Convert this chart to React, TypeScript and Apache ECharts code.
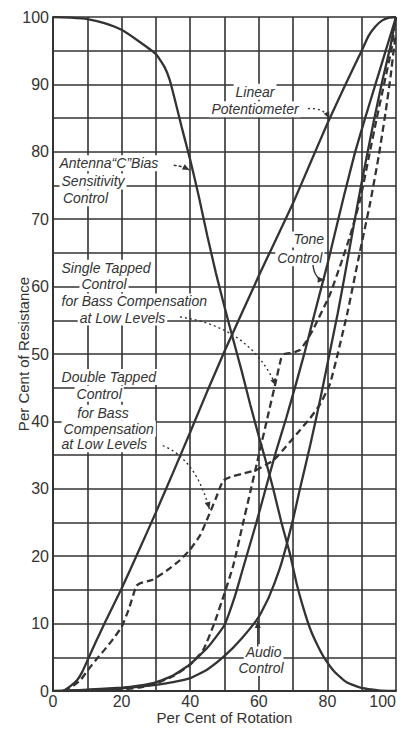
import React, { useEffect, useRef } from "react";
import * as echarts from "echarts";

// ---- Data (x = per cent of rotation, y = per cent of resistance) ----
const xTicks = [0, 20, 40, 60, 80, 100];
const yTicks = [0, 10, 20, 30, 40, 50, 60, 70, 80, 90, 100];

const linearPot: [number, number][] = [
  [3, 0], [5, 0.7], [7, 1.6], [8.5, 2.8], [10, 4.5], [12.5, 7.3], [15, 10], [20, 15.2],
  [25, 20.8], [30, 26.5], [35, 32.4], [40, 38.4], [45, 44.5], [50, 50.4], [55, 56],
  [60, 61.6], [65, 67], [70, 72.4], [75, 78.3], [80, 84.2], [85, 89.7], [90, 95],
  [92, 97.2], [94, 98.6], [96, 99.5], [98, 99.9], [100, 100],
];

const antennaBias: [number, number][] = [
  [0, 100], [5, 99.9], [10, 99.7], [15, 99.1], [20, 98.1], [25, 96.4], [30, 94.5],
  [32.5, 92.6], [34, 90.7], [35.5, 87.8], [37.5, 83.7], [40, 78.8], [42.5, 73.4],
  [45, 67.5], [47.5, 62], [50, 57], [52.5, 52.2], [55, 47.5], [57.5, 42.5], [60, 37.8],
  [62, 34.2], [64.2, 30], [66.6, 25], [69, 20.5], [71, 16], [73, 12.3], [75, 9.2],
  [77, 6.9], [79, 5], [82, 2.9], [85.6, 1.3], [90, 0.45], [95, 0.1], [100, 0],
];

const toneControl: [number, number][] = [
  [3, 0], [10, 0.2], [20, 0.5], [25, 0.8], [30, 1.3], [35, 2.3], [40, 4], [45, 6.4],
  [50, 9.8], [53, 14], [55, 17.5], [57, 21], [59.3, 25], [62.7, 31.3], [65, 35.5],
  [68, 40.5], [70.8, 45.5], [73.4, 50.3], [75, 53.5], [78.3, 60], [80, 63.3],
  [82.7, 69], [85, 73.8], [88, 79.8], [91, 85], [94, 90], [97, 95], [100, 100],
];

const audioControl: [number, number][] = [
  [0, 0], [10, 0.15], [20, 0.4], [30, 0.9], [35, 1.3], [40, 1.9], [45, 3.2], [50, 5.2],
  [55, 7.8], [60, 11], [63, 14], [66, 18], [68, 21.5], [70, 25.5], [72, 30], [75, 36.5],
  [78, 43.5], [80, 48.5], [83, 56], [85, 61.5], [88, 70], [90, 75.5], [93.5, 84.5],
  [96, 90.5], [98.3, 95.5], [100, 100],
];

const singleTapped: [number, number][] = [
  [15, 0], [20, 0.2], [25, 0.5], [30, 1.1], [35, 2.2], [40, 3.9], [43.8, 6.1], [47, 10],
  [50, 14.5], [52.5, 18.5], [55, 24], [57.5, 29.5], [60, 35], [62.5, 40.5], [65, 46],
  [66.5, 49.3], [67.5, 50], [70, 50.2], [72, 50.6], [74, 52], [76, 53.8], [80.7, 58.8],
  [84, 63.5], [86.6, 67.5], [89.5, 72.8], [92, 79], [94.4, 85], [96.5, 90], [98.6, 95],
  [100, 100],
];

const doubleTapped: [number, number][] = [
  [3, 0], [6, 0.8], [8, 1.6], [10, 3], [12.5, 4.6], [15, 6.1], [17.5, 7.7], [20, 9.5],
  [22, 12], [24.3, 15.6], [25.5, 16], [29, 16.5], [33, 17.8], [37, 19.4], [40, 21],
  [43, 23.2], [45.7, 26.4], [47.5, 28.6], [49.6, 31.2], [52, 31.8], [55, 32.2],
  [59.3, 32.8], [64.2, 34.2], [68, 36.3], [72, 38.7], [75, 40.5], [77.8, 42.5],
  [80.7, 45.5], [83, 50], [86, 56.5], [89, 64], [92.5, 72.5], [95, 79.5], [97, 86],
  [98.5, 91.5], [99.3, 95], [100, 97.5],
];

// annotation texts: [text, x, y, align] in data units
const labelLines: [string, number, number, string][] = [
  ["Linear", 58.9, 88.9, "center"],
  ["Potentiometer", 58.9, 86.3, "center"],
  ["Antenna\u201CC\u201DBias", 1.3, 78.3, "left"],
  ["Sensitivity", 1.9, 75.6, "left"],
  ["Control", 2.3, 73.1, "left"],
  ["Tone", 69.5, 67.0, "left"],
  ["Control", 64.8, 64.2, "left"],
  ["Single Tapped", 1.9, 62.8, "left"],
  ["Control", 7.7, 60.4, "left"],
  ["for Bass Compensation", 1.9, 57.8, "left"],
  ["at Low Levels", 7.2, 55.4, "left"],
  ["Double Tapped", 1.9, 46.6, "left"],
  ["Control", 6.3, 44.1, "left"],
  ["for Bass", 6.5, 41.3, "left"],
  ["Compensation", 2.5, 38.9, "left"],
  ["at Low Levels", 1.9, 36.6, "left"],
  ["Audio", 55.6, 5.8, "left"],
  ["Control", 53.5, 3.4, "left"],
];

// arrows: start, control, end (data units), dash style
const arrows: { s: [number, number]; c: [number, number]; e: [number, number]; dash: number[] }[] = [
  { s: [74.3, 86.4], c: [79, 86.6], e: [80.6, 84.9], dash: [2, 3] },
  { s: [35.2, 78.0], c: [37.5, 77.9], e: [39.8, 77.3], dash: [3, 2] },
  { s: [75.8, 63.2], c: [76.3, 61.0], e: [79.2, 61.0], dash: [] },
  { s: [37.0, 55.5], c: [57.5, 54.0], e: [65.0, 45.3], dash: [2, 3] },
  { s: [32.0, 36.4], c: [41.5, 34.5], e: [45.6, 27.0], dash: [2, 3] },
  { s: [59.7, 6.6], c: [59.7, 8.5], e: [59.7, 10.4], dash: [] },
];

const INK = "#333333";
const FONT = '"Liberation Sans", Arial, sans-serif';

export default function App() {
  const ref = useRef<HTMLDivElement>(null);

  useEffect(() => {
    document.body.style.margin = "0";
    if (!ref.current) return;
    const chart = echarts.init(ref.current, null, { renderer: "svg" });

    const mkSeries = (name: string, data: [number, number][], dashed: boolean) => ({
      name,
      type: "line",
      data,
      showSymbol: false,
      symbol: "none",
      smooth: 0.15,
      lineStyle: { color: INK, width: 2.3, type: dashed ? [7, 4] : "solid" },
      z: 3,
    });

    chart.setOption({
      animation: false,
      backgroundColor: "#ffffff",
      grid: { left: 53, right: 7, top: 17, bottom: 38, containLabel: false, outerBoundsMode: "none" },
      xAxis: {
        type: "value",
        min: 0,
        max: 100,
        interval: 10,
        name: "Per Cent of Rotation",
        nameLocation: "middle",
        nameGap: 19,
        nameMoveOverlap: false,
        nameTextStyle: { fontSize: 15, color: INK, fontFamily: FONT },
        axisLine: { show: true, lineStyle: { color: INK, width: 2 } },
        axisTick: { show: false },
        axisLabel: {
          fontSize: 16,
          color: INK,
          fontFamily: FONT,
          margin: 2,
          alignMaxLabel: "right",
          formatter: (v: number) => (xTicks.includes(v) ? String(v) : ""),
        },
        splitLine: { show: true, lineStyle: { color: INK, width: 1.6 } },
      },
      yAxis: {
        type: "value",
        min: 0,
        max: 100,
        interval: 5,
        name: "Per Cent of Resistance",
        nameLocation: "middle",
        nameGap: 22,
        nameMoveOverlap: false,
        nameTextStyle: { fontSize: 15, color: INK, fontFamily: FONT },
        axisLine: { show: true, lineStyle: { color: INK, width: 2 } },
        axisTick: { show: false },
        axisLabel: {
          fontSize: 16,
          color: INK,
          fontFamily: FONT,
          margin: 4,
          formatter: (v: number) => (yTicks.includes(v) ? String(v) : ""),
        },
        splitLine: { show: true, lineStyle: { color: INK, width: 1.6 } },
      },
      series: [
        mkSeries("Linear Potentiometer", linearPot, false),
        mkSeries("Antenna C Bias Sensitivity Control", antennaBias, false),
        mkSeries("Tone Control", toneControl, false),
        mkSeries("Audio Control", audioControl, false),
        mkSeries("Single Tapped Control", singleTapped, true),
        mkSeries("Double Tapped Control", doubleTapped, true),
      ],
    });

    const P = (pt: [number, number]) => chart.convertToPixel({ gridIndex: 0 }, pt) as number[];

    const elements: any[] = [];
    labelLines.forEach(([text, x, y, align]) => {
      const [px, py] = P([x, y]);
      elements.push({
        type: "text",
        x: px,
        y: py,
        z: 20,
        style: {
          text,
          fontSize: 14,
          fontStyle: "italic",
          fontFamily: FONT,
          fill: INK,
          align,
          verticalAlign: "middle",
          textAlign: align,
          textVerticalAlign: "middle",
          backgroundColor: "#ffffff",
          padding: [1, 2, 1, 2],
        },
      });
    });

    arrows.forEach((a) => {
      const s = P(a.s);
      const c = P(a.c);
      const e = P(a.e);
      elements.push({
        type: "bezierCurve",
        z: 21,
        shape: { x1: s[0], y1: s[1], x2: e[0], y2: e[1], cpx1: c[0], cpy1: c[1] },
        style: { stroke: INK, lineWidth: 1.4, fill: null, lineDash: a.dash.length ? a.dash : null },
      });
      const ang = Math.atan2(e[1] - c[1], e[0] - c[0]);
      const L = 7;
      const W = 3;
      const bx = e[0] - L * Math.cos(ang);
      const by = e[1] - L * Math.sin(ang);
      elements.push({
        type: "polygon",
        z: 21,
        shape: {
          points: [
            [e[0], e[1]],
            [bx + W * Math.sin(ang), by - W * Math.cos(ang)],
            [bx - W * Math.sin(ang), by + W * Math.cos(ang)],
          ],
        },
        style: { fill: INK },
      });
    });

    chart.setOption({ graphic: { elements } });

    return () => chart.dispose();
  }, []);

  return <div ref={ref} style={{ width: 403, height: 729 }} />;
}
